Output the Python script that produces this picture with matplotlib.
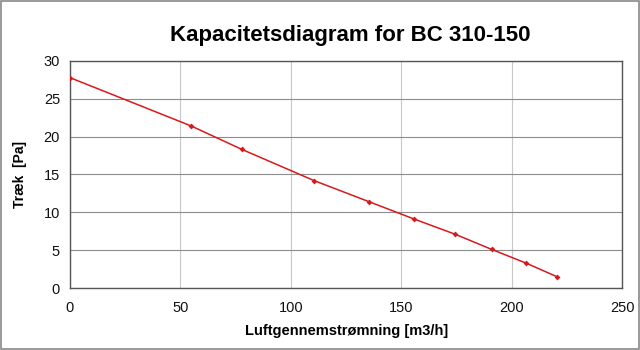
"""Kapacitetsdiagram for BC 310-150: træk mod luftgennemstrømning."""

import matplotlib
matplotlib.use("Agg")
import matplotlib.pyplot as plt
from matplotlib.patches import Rectangle

plt.rcParams["font.family"] = ["Liberation Sans", "DejaVu Sans"]

# Målepunkter
flow = [0, 55, 78, 110.5, 135.5, 156, 174.5, 191, 206.5, 220.5]   # m3/h
pressure = [27.8, 21.4, 18.3, 14.2, 11.4, 9.1, 7.1, 5.1, 3.3, 1.5]  # Pa

x_ticks = [0, 50, 100, 150, 200, 250]
y_ticks = [0, 5, 10, 15, 20, 25, 30]

TITLE = "Kapacitetsdiagram for BC 310-150"
XLABEL = "Luftgennemstrømning [m3/h]"
YLABEL = "Træk  [Pa]"

_RED = "#d7191c"

fig = plt.figure(figsize=(6.4, 3.5), dpi=100)
fig.patch.set_facecolor("white")
ax = fig.add_axes([0.109, 0.177, 0.863, 0.649])

ax.plot(flow, pressure, color=_RED, linewidth=1.1, marker="D",
        markersize=3, markeredgewidth=0, zorder=3)

ax.set_xlim(0, 250)
ax.set_ylim(0, 30)
ax.set_xticks(x_ticks)
ax.set_yticks(y_ticks)
ax.tick_params(length=0, labelsize=10.5, colors="#111111")
ax.tick_params(axis="x", pad=9)
ax.tick_params(axis="y", pad=7)
# vandrette linjer lidt mørkere end de lodrette
ax.yaxis.grid(True, color="#8c8c8c", linewidth=0.8)
ax.xaxis.grid(True, color="#c8c8c8", linewidth=0.8)
ax.set_axisbelow(True)
for sp in ax.spines.values():
    sp.set_edgecolor("#555555")
    sp.set_linewidth(1.0)

ax.set_xlabel(XLABEL, fontsize=10.5, fontweight="bold")
ax.set_ylabel(YLABEL, fontsize=10, fontweight="bold")
ax.xaxis.set_label_coords(0.502, -0.16)
ax.yaxis.set_label_coords(-0.077, 0.5)
fig.text(0.548, 0.9, TITLE, ha="center", va="center",
         fontsize=16, fontweight="bold")

# tynd grå ramme om hele figuren
fig.patches.append(Rectangle((0.002, 0.003), 0.996, 0.994,
                             transform=fig.transFigure, fill=False,
                             edgecolor="#888888", linewidth=1.2))

fig.savefig("out.png", dpi=100, facecolor=fig.get_facecolor())
